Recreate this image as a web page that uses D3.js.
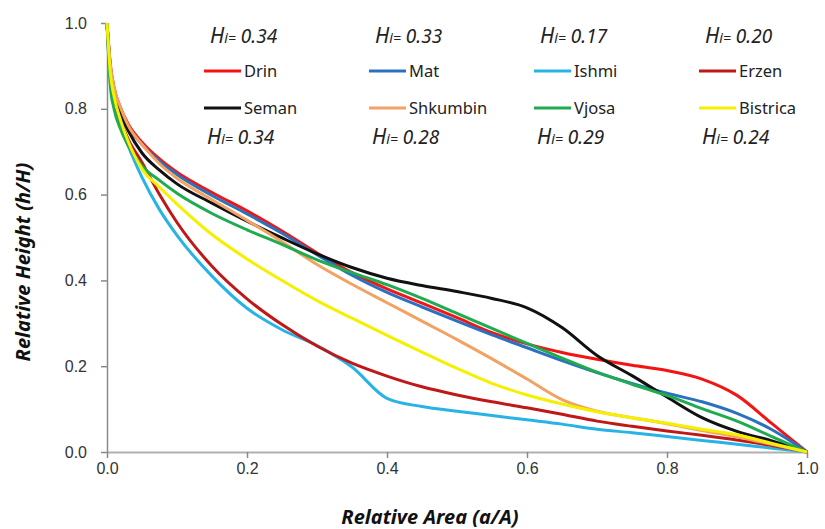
<!DOCTYPE html>
<html>
<head>
<meta charset="utf-8">
<script src="https://cdn.jsdelivr.net/npm/d3@7"></script>
<style>
  body { margin: 0; background: #fff; }
  svg { display: block; font-family: "Noto Sans", "Open Sans", sans-serif; }
</style>
</head>
<body>
<svg width="825" height="529"></svg>
<script>
// relative area sampled along x, one relative height array per river
var relArea = [0, 0.005, 0.01, 0.02, 0.03, 0.05, 0.075, 0.1, 0.15, 0.2, 0.25, 0.3, 0.35,
  0.4, 0.45, 0.5, 0.55, 0.6, 0.65, 0.7, 0.75, 0.8, 0.85, 0.9, 0.95, 1.0];

var drin     = [1, 0.90, 0.85, 0.80, 0.765, 0.722, 0.683, 0.652, 0.605, 0.562, 0.515, 0.464, 0.418,
  0.38, 0.347, 0.313, 0.278, 0.252, 0.232, 0.216, 0.202, 0.19, 0.17, 0.132, 0.066, 0];
var mat      = [1, 0.89, 0.84, 0.79, 0.758, 0.717, 0.678, 0.647, 0.598, 0.555, 0.51, 0.46, 0.412,
  0.372, 0.338, 0.305, 0.273, 0.243, 0.213, 0.185, 0.16, 0.137, 0.117, 0.09, 0.052, 0];
var ishmi    = [1, 0.86, 0.81, 0.76, 0.715, 0.64, 0.565, 0.505, 0.41, 0.335, 0.285, 0.248, 0.198,
  0.125, 0.106, 0.095, 0.085, 0.075, 0.065, 0.053, 0.045, 0.036, 0.027, 0.018, 0.009, 0];
var erzen    = [1, 0.87, 0.82, 0.77, 0.73, 0.675, 0.60, 0.535, 0.433, 0.357, 0.297, 0.247, 0.207,
  0.177, 0.152, 0.133, 0.117, 0.103, 0.088, 0.072, 0.06, 0.049, 0.039, 0.028, 0.015, 0];
var seman    = [1, 0.89, 0.84, 0.785, 0.75, 0.697, 0.657, 0.625, 0.58, 0.538, 0.499, 0.462, 0.43,
  0.405, 0.388, 0.374, 0.358, 0.336, 0.29, 0.225, 0.178, 0.128, 0.08, 0.048, 0.026, 0];
var shkumbin = [1, 0.90, 0.85, 0.80, 0.762, 0.717, 0.672, 0.638, 0.588, 0.54, 0.49, 0.437, 0.391,
  0.348, 0.305, 0.262, 0.217, 0.17, 0.122, 0.095, 0.08, 0.066, 0.05, 0.035, 0.018, 0];
var vjosa    = [1, 0.85, 0.80, 0.75, 0.715, 0.667, 0.633, 0.603, 0.556, 0.518, 0.484, 0.448, 0.418,
  0.39, 0.358, 0.323, 0.288, 0.253, 0.219, 0.186, 0.158, 0.132, 0.101, 0.072, 0.036, 0];
var bistrica = [1, 0.88, 0.83, 0.77, 0.725, 0.66, 0.617, 0.578, 0.507, 0.45, 0.40, 0.353, 0.312,
  0.272, 0.233, 0.195, 0.16, 0.133, 0.112, 0.094, 0.08, 0.067, 0.053, 0.04, 0.02, 0];

var rivers = ['Drin', 'Mat', 'Ishmi', 'Erzen', 'Seman', 'Shkumbin', 'Vjosa', 'Bistrica'];
var heights = [drin, mat, ishmi, erzen, seman, shkumbin, vjosa, bistrica];
var hiValues = ['0.34', '0.33', '0.17', '0.20', '0.34', '0.28', '0.29', '0.24'];
var colors = ['#f41414', '#2a72bf', '#27b3e6', '#c01818', '#111111', '#f2a262', '#1fab4f', '#f4f000'];
var ticks = [0, 0.2, 0.4, 0.6, 0.8, 1.0];

var svg = d3.select('svg');
// plot box (note: "top" is a reserved window global, so use a margin object)
var plot = { left: 107, right: 807, top: 23, bottom: 452 };

var x = d3.scaleLinear().domain([0, 1]).range([plot.left, plot.right]);
var y = d3.scaleLinear().domain([0, 1]).range([plot.bottom, plot.top]);

// axes
var yAxis = svg.append('g')
  .attr('transform', 'translate(' + plot.left + ',0)')
  .call(d3.axisLeft(y).tickValues(ticks).tickFormat(d3.format('.1f')).tickSize(6).tickSizeOuter(0));
yAxis.select('.domain').attr('stroke', '#8a8a8a').attr('stroke-width', 1.5);
yAxis.selectAll('.tick line').attr('stroke', '#8a8a8a').attr('stroke-width', 1.5);
yAxis.selectAll('.tick text').attr('x', -20).attr('fill', '#333').style('font-size', '16px');

var xAxis = svg.append('g')
  .attr('transform', 'translate(0,' + plot.bottom + ')')
  .call(d3.axisBottom(x).tickValues(ticks).tickFormat(d3.format('.1f')).tickSize(6).tickSizeOuter(0));
xAxis.select('.domain').attr('stroke', '#b0b0b0').attr('stroke-width', 2);
xAxis.selectAll('.tick line').attr('stroke', '#8a8a8a').attr('stroke-width', 1.5);
xAxis.selectAll('.tick text').attr('y', 11).attr('fill', '#333').style('font-size', '16px');

// axis titles
svg.append('text')
  .attr('transform', 'translate(30,262) rotate(-90)')
  .attr('text-anchor', 'middle')
  .style('font-size', '20px').style('font-weight', 'bold').style('font-style', 'italic')
  .attr('fill', '#111')
  .text('Relative Height (h/H)');

svg.append('text')
  .attr('x', 430).attr('y', 524)
  .attr('text-anchor', 'middle')
  .style('font-size', '20px').style('font-weight', 'bold').style('font-style', 'italic')
  .attr('fill', '#111')
  .text('Relative Area (a/A)');

// curves
var line = d3.line()
  .x(function (d) { return x(d[0]); })
  .y(function (d) { return y(d[1]); })
  .curve(d3.curveMonotoneX);

svg.append('g')
  .selectAll('path')
  .data(heights)
  .enter()
  .append('path')
  .attr('fill', 'none')
  .attr('stroke', function (d, i) { return colors[i]; })
  .attr('stroke-width', 3)
  .attr('stroke-linejoin', 'round')
  .attr('d', function (d) {
    return line(relArea.map(function (a, j) { return [a, d[j]]; }));
  });

// legend: two rows of four, Hi labels above row one and below row two
var legend = svg.append('g');
var colX = [204, 369, 534, 699];
var rowY = [71, 108];
var hiY = [43, 144];

rivers.forEach(function (name, i) {
  var c = i % 4, r = Math.floor(i / 4);
  legend.append('line')
    .attr('x1', colX[c]).attr('x2', colX[c] + 37)
    .attr('y1', rowY[r]).attr('y2', rowY[r])
    .attr('stroke', colors[i]).attr('stroke-width', 3);
  legend.append('text')
    .attr('x', colX[c] + 40).attr('y', rowY[r] + 6)
    .style('font-size', '16.5px').attr('fill', '#222')
    .text(name);

  var hi = legend.append('text')
    .attr('x', colX[c] + 6 - r * 3).attr('y', hiY[r])
    .style('font-style', 'italic').attr('fill', '#222');
  hi.append('tspan').style('font-size', '21px').text('H');
  hi.append('tspan').style('font-size', '14px').text('i=');
  hi.append('tspan').style('font-size', '19px').text(' ' + hiValues[i]);
});
</script>
</body>
</html>
